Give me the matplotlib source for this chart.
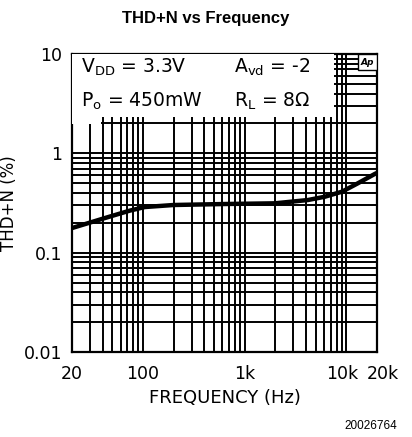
import matplotlib
matplotlib.use("Agg")
import matplotlib.pyplot as plt
from matplotlib.patches import Rectangle
from matplotlib.transforms import ScaledTranslation
from matplotlib.ticker import FixedLocator, LogLocator, NullFormatter

# curve
freq_hz = [20, 42, 74, 104, 200, 640, 1980, 4190, 6150, 9040, 12980, 19060, 20000]
thd_pct = [0.177, 0.223, 0.265, 0.288, 0.302, 0.309, 0.314, 0.339, 0.366, 0.411, 0.50, 0.621, 0.635]

x_ticks = [20, 100, 1000, 10000, 20000]
x_labels = ["20", "100", "1k", "10k", "20k"]
y_ticks = [0.01, 0.1, 1, 10]
y_labels = ["0.01", "0.1", "1", "10"]

fig = plt.figure(figsize=(4.12, 4.37), dpi=100)
ax = fig.add_axes([0.1748, 0.1945, 0.7403, 0.6819])

ax.set_xscale("log")
ax.set_yscale("log")
ax.set_xlim(20, 20000)
ax.set_ylim(0.01, 10)

# grid: decades and minor lines, all black
ax.xaxis.set_major_locator(FixedLocator(x_ticks))
ax.xaxis.set_minor_locator(LogLocator(base=10, subs=range(2, 10)))
ax.yaxis.set_major_locator(FixedLocator(y_ticks))
ax.yaxis.set_minor_locator(LogLocator(base=10, subs=range(2, 10)))
ax.xaxis.set_minor_formatter(NullFormatter())
ax.yaxis.set_minor_formatter(NullFormatter())
ax.set_xticklabels(x_labels)
ax.set_yticklabels(y_labels)
ax.grid(True, which="both", color="black", linewidth=1.4)
ax.tick_params(which="both", length=0, labelsize=12.5)
ax.tick_params(axis="x", pad=9)
ax.tick_params(axis="y", pad=7)
for s in ax.spines.values():
    s.set_linewidth(1.6)

# pull 10k and 20k apart like the reference
lbls = ax.get_xticklabels()
lbls[3].set_transform(lbls[3].get_transform() + ScaledTranslation(-4 / 100, 0, fig.dpi_scale_trans))
lbls[4].set_transform(lbls[4].get_transform() + ScaledTranslation(6 / 100, 0, fig.dpi_scale_trans))

ax.plot(freq_hz, thd_pct, color="black", linewidth=3.2, solid_capstyle="butt", zorder=5)

# white panel behind the conditions text
ax.add_patch(Rectangle((0, 0.789), 0.859, 0.211, transform=ax.transAxes,
                       facecolor="white", edgecolor="none", zorder=6))
ax.add_patch(Rectangle((0, 0.765), 0.095, 0.03, transform=ax.transAxes,
                       facecolor="white", edgecolor="none", zorder=6))
ax.text(0.03, 0.936, r"V$_{\mathrm{DD}}$ = 3.3V", transform=ax.transAxes,
        fontsize=13.5, va="baseline", ha="left", zorder=7)
ax.text(0.53, 0.936, r"A$_{\mathrm{vd}}$ = -2", transform=ax.transAxes,
        fontsize=13.5, va="baseline", ha="left", zorder=7)
ax.text(0.03, 0.822, r"P$_{\mathrm{o}}$ = 450mW", transform=ax.transAxes,
        fontsize=13.5, va="baseline", ha="left", zorder=7)
ax.text(0.53, 0.822, r"R$_{\mathrm{L}}$ = 8Ω", transform=ax.transAxes,
        fontsize=13.5, va="baseline", ha="left", zorder=7)

# Ap logo box
ax.add_patch(Rectangle((0.938, 0.946), 0.062, 0.054, transform=ax.transAxes,
                       facecolor="white", edgecolor="black", linewidth=1, zorder=6))
ax.text(0.969, 0.973, "Ap", transform=ax.transAxes, fontsize=6.5, fontweight="bold",
        fontstyle="italic", ha="center", va="center", zorder=7)

ax.set_xlabel("FREQUENCY (Hz)", fontsize=13, labelpad=5)
ax.set_ylabel("THD+N (%)", fontsize=12)
ax.yaxis.set_label_coords(-0.177, 0.5)

fig.text(0.5, 0.958, "THD+N vs Frequency", ha="center", va="center",
         fontsize=12, fontweight="bold", family="Liberation Sans")
fig.text(0.965, 0.025, "20026764", ha="right", va="center",
         fontsize=8.5, family="Liberation Sans")

fig.savefig("out.png", dpi=100)
